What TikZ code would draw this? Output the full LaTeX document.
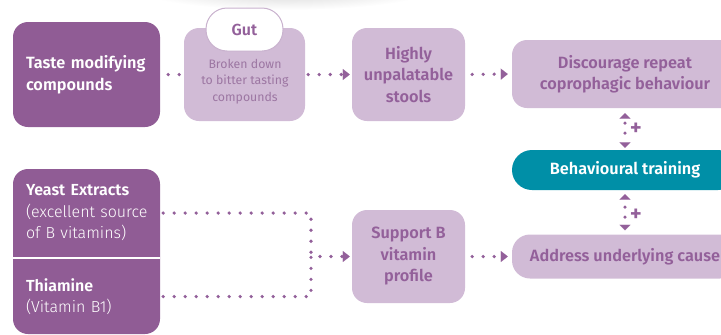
\documentclass[tikz,border=0pt]{standalone}
\usepackage{fontspec}
\setmainfont{Fira Sans}[BoldFont={Fira Sans SemiBold}]
\newfontfamily\ligera{Fira Sans Light}
\newfontfamily\media{Fira Sans SemiBold}
\usetikzlibrary{arrows.meta}
\definecolor{oscuro}{HTML}{905C95}
\definecolor{claro}{HTML}{D1BBD6}
\definecolor{morado}{HTML}{93609A}
\definecolor{gris}{HTML}{9C76A2}
\definecolor{borde}{HTML}{C9B2CE}
\definecolor{turquesa}{HTML}{008FA7}

\begin{document}
\begin{tikzpicture}[x=1pt,y=-1pt,
  caja/.style={rectangle, rounded corners=15pt, fill=claro, text=morado, align=center, inner sep=0pt,
    font=\bfseries\fontsize{16.3}{21.5}\selectfont},
  fuerte/.style={rectangle, text=white, align=left, inner xsep=13pt, inner ysep=0pt, text width=125pt,
    font=\ligera\fontsize{16}{21.5}\selectfont},
  puntos/.style={morado, line width=3.6pt, line cap=round, dash pattern=on 0pt off 11pt},
  flecha/.style={puntos, -{Triangle[length=7pt,width=11pt,line width=0.1pt]}},
  doble/.style={puntos, dash pattern=on 0pt off 10pt,
    {Triangle[length=5.5pt,width=11pt,line width=0.1pt]}-{Triangle[length=5.5pt,width=11pt,line width=0.1pt]}},
  mas/.style={midway, xshift=11pt, font=\media\fontsize{23}{23}\selectfont}]
\useasboundingbox (0,0) rectangle (721,335);
\clip (0,0) rectangle (721,335);
% Sombra arriba
\shade[inner color=black!18, outer color=white] (285,-12) ellipse (150 and 22);
% Taste modifying compounds
\node[fuerte, text width=121pt, fill=oscuro, rounded corners=15pt, minimum height=105pt, font=\media\fontsize{16.3}{21.5}\selectfont]
  (taste) at (86.5,74.5) {Taste modifying\\compounds};
% Gut
\node[caja, minimum width=121pt, minimum height=93pt] (gut) at (244.5,74.5) {};
\node[text=gris, align=center, font=\fontsize{12.3}{16.5}\selectfont] (gutxt) at (245,81.5)
  {Broken down\\to bitter tasting\\compounds};
\node[rectangle, rounded corners=21pt, fill=white, draw=borde, line width=1pt, minimum width=77pt, minimum height=43pt,
  text=morado, font=\media\fontsize{16}{16}\selectfont] (tab) at (244.5,29.5) {Gut};
% Highly unpalatable stools
\node[caja, minimum width=113pt, minimum height=93pt] (stools) at (408.5,74.5) {Highly\\unpalatable\\stools};
% Discourage repeat
\node[caja, minimum width=226pt, minimum height=68pt] (disc) at (625,74) {Discourage repeat\\coprophagic behaviour};
% Behavioural training
\node[caja, fill=turquesa, text=white, rounded corners=20pt, minimum width=226pt, minimum height=40pt]
  (train) at (625,170) {Behavioural training};
% Address underlying cause
\node[caja, rounded corners=18pt, minimum width=226pt, minimum height=44pt] (cause) at (625,256.5) {Address underlying cause};
% Support B vitamin profile
\node[caja, minimum width=113pt, minimum height=93pt] (support) at (408.5,256.5) {Support B\\vitamin\\profile};
% Yeast Extracts / Thiamine
\fill[oscuro, rounded corners=15pt] (13,169) rectangle (160,334);
\draw[white, line width=2.5pt] (13,258) -- (160,258);
\node[fuerte, minimum height=88pt] (yeast) at (88.5,213) {{\media Yeast Extracts}\\(excellent source\\of B vitamins)};
\node[fuerte, minimum height=75pt] (thia) at (88.5,296.5) {{\media Thiamine}\\(Vitamin B1)};
% Conectores
\draw[puntos, shorten <=8pt, shorten >=3pt] (taste.east) -- (gut.west);
\draw[flecha, shorten <=3pt, shorten >=2pt] (gut.east) -- (stools.west);
\draw[flecha, shorten <=7pt, shorten >=4pt] (stools.east) -- (disc.west);
\draw[doble, dash phase=5.5pt, shorten <=5pt, shorten >=2pt] (disc.south) -- (train.north) node[mas] {+};
\draw[doble, dash phase=2.5pt, shorten <=4pt, shorten >=4pt] (train.south) -- (cause.north) node[mas, yshift=-3pt] {+};
\coordinate (junta) at (311,256.5);
\draw[puntos, shorten <=-1pt] (yeast.east) -| (junta);
\draw[puntos, shorten <=-1pt] (thia.east) -| (junta);
\draw[flecha, shorten <=9pt, shorten >=2pt] (junta) -- (support.west);
\draw[flecha, shorten <=7pt, shorten >=4pt] (support.east) -- (cause.west);
\end{tikzpicture}
\end{document}
